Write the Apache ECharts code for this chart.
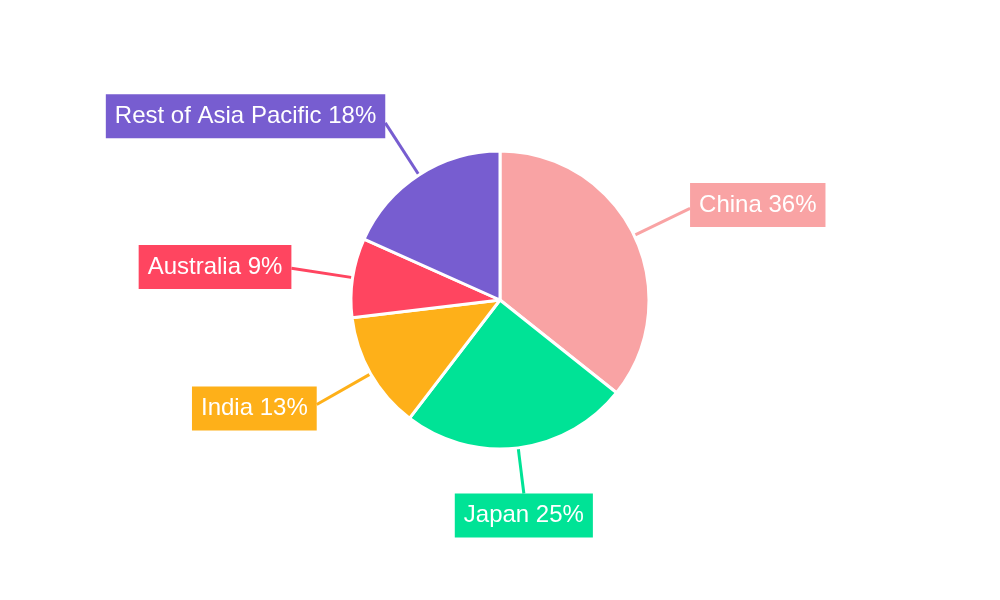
<!DOCTYPE html>
<html>
<head>
<meta charset="utf-8">
<style>
  html, body { margin: 0; padding: 0; background: #fff; }
  #chart { width: 1000px; height: 600px; }
</style>
<script src="https://cdn.jsdelivr.net/npm/echarts@6/dist/echarts.min.js"></script>
</head>
<body>
<div id="chart"></div>
<script>
// share of the market, in percent
var regions = ['China', 'Japan', 'India', 'Australia', 'Rest of Asia Pacific'];
var shares = [35.7, 24.7, 12.7, 8.6, 18.3];
var colors = ['#F9A3A4', '#00E396', '#FEB019', '#FF4560', '#775DD0'];

document.addEventListener('DOMContentLoaded', function(){
  var myChart = echarts.init(document.getElementById('chart'));

  var data = regions.map(function(name, i){
    var item = { name: name, value: shares[i], itemStyle: { color: colors[i] } };
    // bottom label sits a bit closer to the pie
    if (name === 'Japan') item.labelLine = { length: 46 };
    return item;
  });

  var option = {
    animation: false,
    series: [{
      type: 'pie',
      center: [500, 300],
      radius: 149,
      startAngle: 90,
      clockwise: true,
      data: data,
      itemStyle: { borderColor: '#fff', borderWidth: 3 },
      label: {
        show: true,
        position: 'outside',
        formatter: function(p){ return p.name + ' ' + Math.round(p.value) + '%' },
        color: '#fff',
        fontFamily: 'Liberation Sans, Arial, sans-serif',
        fontSize: 24,
        backgroundColor: 'inherit',
        padding: [10, 9],
        distanceToLabelLine: 0
      },
      labelLine: {
        show: true,
        length: 62,
        length2: 0,
        smooth: false,
        lineStyle: { width: 3 }
      },
      labelLayout: function(params){
        var pts = params.labelLinePoints;
        if (!pts) return {};
        var dx = pts[1][0] - pts[0][0];
        var dy = pts[1][1] - pts[0][1];
        var len = Math.sqrt(dx * dx + dy * dy) || 1;
        // nearly vertical leader: hang the box centred under it
        if (Math.abs(dx) < 0.3 * Math.abs(dy)) {
          return { align: 'center', verticalAlign: dy > 0 ? 'top' : 'bottom' };
        }
        // push the box a little further along the leader direction
        return { dy: 8 * dy / len };
      },
      emphasis: { disabled: true }
    }]
  };
  myChart.setOption(option);
});
</script>
</body>
</html>
